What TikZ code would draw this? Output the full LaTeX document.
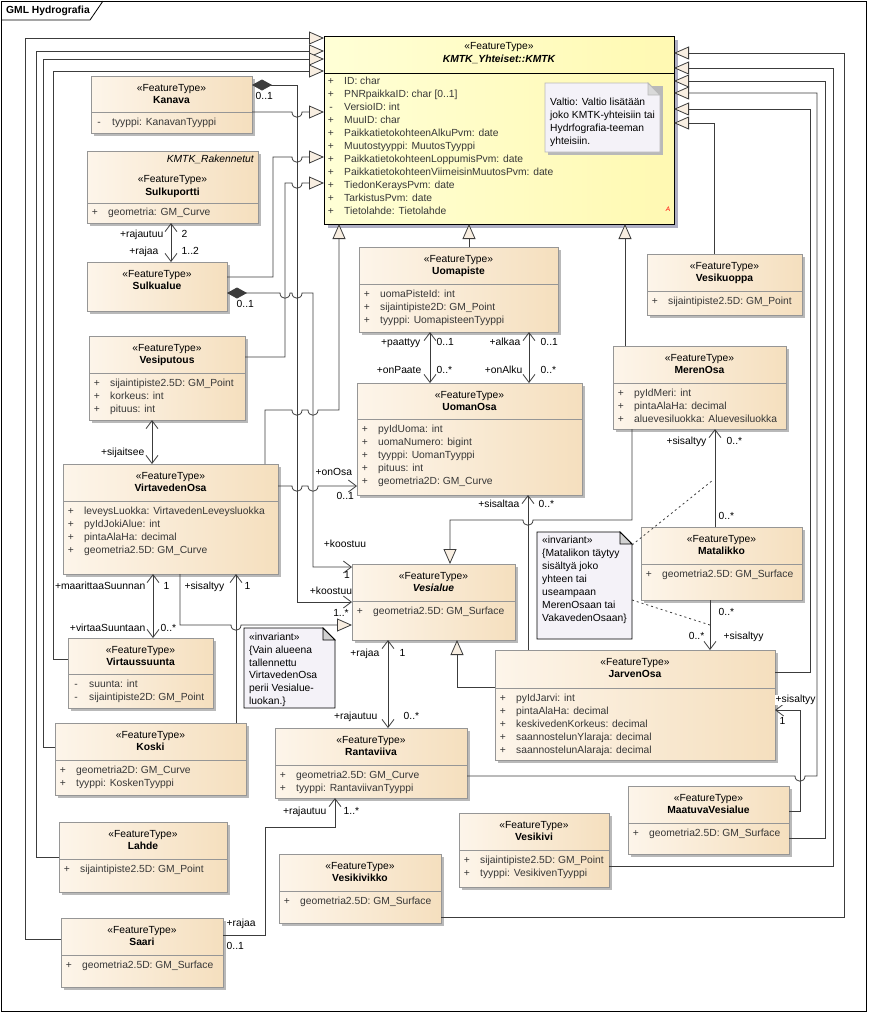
\documentclass[tikz,border=0pt]{standalone}
\usepackage{fontspec}
\setmainfont{Liberation Sans}
\usetikzlibrary{arrows.meta}
\definecolor{boxL}{RGB}{253,245,234}
\definecolor{boxR}{RGB}{245,223,190}
\definecolor{boxB}{RGB}{150,150,150}
\definecolor{kmL}{RGB}{255,255,214}
\definecolor{kmR}{RGB}{255,249,178}
\definecolor{noteF}{RGB}{244,242,248}
\definecolor{lnC}{RGB}{60,60,60}
\definecolor{attrC}{RGB}{55,55,55}
\definecolor{triF}{RGB}{248,238,225}
\definecolor{shd}{RGB}{185,185,185}
\definecolor{kshd}{RGB}{175,175,195}
\newcommand\fs{\fontsize{10.3}{13}\selectfont}
\newcounter{tn}
\newcommand\hp[2]{-- ({#1-5},#2) .. controls ({#1-5},{#2+7}) and ({#1+5},{#2+7}) .. ({#1+5},#2)}
\newcommand\hpl[2]{-- ({#1+5},#2) .. controls ({#1+5},{#2+7}) and ({#1-5},{#2+7}) .. ({#1-5},#2)}
\newcommand\cls[7]{%
  \fill[shd] ({#2+3},{#3+3}) rectangle ({#4+3},{#5+3});
  \node[clsbox, minimum width={#4pt-#2pt}, minimum height={#5pt-#3pt}, anchor=north west] (#1) at (#2,#3) {};
  \ifx\relax#6\relax\else\draw[sepl] (#2,#6) -- (#4,#6);\fi
  \node[txt] (#1-st) at ({(#2+#4)/2},{#3+13}) {«FeatureType»};
  \node[txt,font=\fs\bfseries] (#1-nm) at ({(#2+#4)/2},{#3+25}) {#7};
}
\newcommand\att[4]{\stepcounter{tn}%
  \node[atx] (v\arabic{tn}) at ({#1+8},#2) {#3};
  \node[atx,anchor=west] (a\arabic{tn}) at ({#1+21},#2) {#4};}
\newcommand\lb[3]{\stepcounter{tn}\node[lbl,#1] (l\arabic{tn}) at (#2) {#3};}
\tikzset{
  clsbox/.style={draw=boxB, line width=0.7pt, left color=boxL, right color=boxR, inner sep=0pt, outer sep=0pt},
  sepl/.style={draw=boxB, line width=0.7pt},
  txt/.style={font=\fs, inner sep=0pt, text=black, text height=7.4pt, text depth=2.2pt},
  atx/.style={font=\fs, inner sep=0pt, text=attrC, text height=7.4pt, text depth=2.2pt},
  lbl/.style={font=\fs, inner sep=0.5pt, text=black, text height=7.4pt, text depth=2.2pt},
  >={Straight Barb[length=8pt,width=12pt,line width=0.8pt]},
  conn/.style={draw=lnC, line width=0.8pt},
  gen/.style={conn, -{Triangle[length=15pt,width=13pt,fill=triF,line width=0.8pt]}},
  asc/.style={conn, ->},
  bi/.style={conn, <->},
  comp/.style={conn, {Diamond[length=20pt,width=11pt,fill=lnC,line width=0.8pt]}->},
  dotl/.style={draw=lnC, line width=0.8pt, dash pattern=on 2pt off 3pt},
  notebg/.style={fill=noteF, line width=0.8pt},
}
\begin{document}
\begin{tikzpicture}[x=1pt,y=-1pt]
\useasboundingbox (0,0) rectangle (869,1013);
\fill[white] (0,0) rectangle (869,1013);
% frame
\draw[black, line width=0.8pt] (1,1) rectangle (866,1011);
\draw[black, line width=0.8pt] (1,20) -- (90,20) -- (103,1);
\node[font=\fs\bfseries, anchor=west, inner sep=0pt] (ttl) at (6,11) {GML Hydrografia};

% ---------- KMTK ----------
\fill[kshd] (328,40) rectangle (678,228);
\node[draw=black, line width=0.8pt, left color=kmL, right color=kmR, minimum width=350pt, minimum height=188pt, anchor=north west, inner sep=0pt, outer sep=0pt] (kmtk) at (324,36) {};
\draw[black, line width=0.8pt] (324,73) -- (674,73);
\node[txt] (kmtk-st) at (499,47) {«FeatureType»};
\node[txt,font=\fs\bfseries\itshape] (kmtk-nm) at (499,60) {KMTK\_Yhteiset::KMTK};
\att{323}{82}{+}{ID: char}
\att{323}{95}{+}{PNRpaikkaID: char [0..1]}
\att{323}{108}{-}{VersioID: int}
\att{323}{121}{+}{MuuID: char}
\att{323}{134}{+}{PaikkatietokohteenAlkuPvm: date}
\att{323}{147}{+}{Muutostyyppi: MuutosTyyppi}
\att{323}{160}{+}{PaikkatietokohteenLoppumisPvm: date}
\att{323}{173}{+}{PaikkatietokohteenViimeisinMuutosPvm: date}
\att{323}{186}{+}{TiedonKeraysPvm: date}
\att{323}{199}{+}{TarkistusPvm: date}
\att{323}{212}{+}{Tietolahde: Tietolahde}
\node[font=\fontsize{6.5}{7}\selectfont\itshape, text=red, inner sep=0pt] (kmA) at (668,209) {A};
% note in KMTK
\fill[shd] (548,86) rectangle (663,155);
\draw[notebg, draw=gray!55] (545,83) -- (648,83) -- (660,95) -- (660,152) -- (545,152) -- cycle;
\filldraw[draw=gray!55, fill=gray!30, line width=0.8pt] (648,83) -- (648,95) -- (660,95) -- cycle;
\foreach \t [count=\i] in {Valtio: Valtio lisätään, joko KMTK-yhteisiin tai, Hydrfografia-teeman, yhteisiin.}
  \node[txt, anchor=west] (kn\i) at (550,{103+13*(\i-1)}) {\t};

% ---------- classes ----------
\cls{kanava}{91}{76}{252}{133}{112}{Kanava}
\att{91}{123}{-}{tyyppi: KanavanTyyppi}

\fill[shd] (90,154) rectangle (261,226);
\node[clsbox, minimum width=171pt, minimum height=72pt, anchor=north west] (sulkuportti) at (87,151) {};
\draw[sepl] (87,203) -- (258,203);
\node[txt, font=\fs\itshape, anchor=east] (sp-pk) at (254,160) {KMTK\_Rakennetut};
\node[txt] (sulkuportti-st) at (172.5,180) {«FeatureType»};
\node[txt,font=\fs\bfseries] (sulkuportti-nm) at (172.5,193) {Sulkuportti};
\att{87}{213}{+}{geometria: GM\_Curve}

\cls{sulkualue}{87}{262}{227}{311}{}{Sulkualue}

\cls{vesiputous}{89}{336}{245}{420}{373}{Vesiputous}
\att{89}{384}{+}{sijaintipiste2.5D: GM\_Point}
\att{89}{397}{+}{korkeus: int}
\att{89}{410}{+}{pituus: int}

\cls{virta}{63}{464}{278}{574}{501}{VirtavedenOsa}
\att{63}{512}{+}{leveysLuokka: VirtavedenLeveysluokka}
\att{63}{525}{+}{pyIdJokiAlue: int}
\att{63}{538}{+}{pintaAlaHa: decimal}
\att{63}{551}{+}{geometria2.5D: GM\_Curve}

\cls{virtaussuunta}{68}{638}{213}{708}{674}{Virtaussuunta}
\att{68}{685}{-}{suunta: int}
\att{68}{698}{-}{sijaintipiste2D: GM\_Point}

\cls{koski}{55}{723}{246}{795}{760}{Koski}
\att{55}{771}{+}{geometria2D: GM\_Curve}
\att{55}{784}{+}{tyyppi: KoskenTyyppi}

\cls{lahde}{59}{822}{227}{892}{859}{Lahde}
\att{59}{870}{+}{sijaintipiste2.5D: GM\_Point}

\cls{saari}{61}{918}{223}{987}{955}{Saari}
\att{61}{966}{+}{geometria2.5D: GM\_Surface}

\cls{uomapiste}{359}{247}{558}{332}{284}{Uomapiste}
\att{359}{295}{+}{uomaPisteId: int}
\att{359}{308}{+}{sijaintipiste2D: GM\_Point}
\att{359}{321}{+}{tyyppi: UomapisteenTyyppi}

\cls{uomanosa}{357}{383}{582}{495}{419}{UomanOsa}
\att{357}{430}{+}{pyIdUoma: int}
\att{357}{443}{+}{uomaNumero: bigint}
\att{357}{456}{+}{tyyppi: UomanTyyppi}
\att{357}{469}{+}{pituus: int}
\att{357}{482}{+}{geometria2D: GM\_Curve}

\cls{vesialue}{352}{564}{515}{640}{601}{\itshape Vesialue}
\att{352}{612}{+}{geometria2.5D: GM\_Surface}

\cls{rantaviiva}{275}{728}{467}{798}{765}{Rantaviiva}
\att{275}{776}{+}{geometria2.5D: GM\_Curve}
\att{275}{789}{+}{tyyppi: RantaviivanTyyppi}

\cls{vesikivikko}{279}{854}{441}{923}{891}{Vesikivikko}
\att{279}{902}{+}{geometria2.5D: GM\_Surface}

\cls{vesikivi}{459}{813}{609}{887}{850}{Vesikivi}
\att{459}{861}{+}{sijaintipiste2.5D: GM\_Point}
\att{459}{874}{+}{tyyppi: VesikivenTyyppi}

\cls{maatuva}{628}{786}{789}{854}{823}{MaatuvaVesialue}
\att{628}{834}{+}{geometria2.5D: GM\_Surface}

\cls{jarvenosa}{495}{650}{775}{760}{688}{JarvenOsa}
\att{495}{699}{+}{pyIdJarvi: int}
\att{495}{712}{+}{pintaAlaHa: decimal}
\att{495}{725}{+}{keskivedenKorkeus: decimal}
\att{495}{738}{+}{saannostelunYlaraja: decimal}
\att{495}{751}{+}{saannostelunAlaraja: decimal}

\cls{matalikko}{641}{527}{802}{600}{564}{Matalikko}
\att{641}{575}{+}{geometria2.5D: GM\_Surface}

\cls{merenosa}{613}{346}{786}{429}{383}{MerenOsa}
\att{613}{394}{+}{pyIdMeri: int}
\att{613}{407}{+}{pintaAlaHa: decimal}
\att{613}{420}{+}{aluevesiluokka: Aluevesiluokka}

\cls{vesikuoppa}{647}{254}{802}{315}{291}{Vesikuoppa}
\att{647}{302}{+}{sijaintipiste2.5D: GM\_Point}

% ---------- invariant notes ----------
\node[minimum width=91pt, minimum height=80pt, anchor=north west, inner sep=0pt] (n1) at (244,628) {};
\draw[notebg, draw=black] (244,628) -- (323,628) -- (335,640) -- (335,708) -- (244,708) -- cycle;
\filldraw[draw=black, fill=gray!35, line width=0.8pt] (323,628) -- (323,640) -- (335,640) -- cycle;
\foreach \t [count=\i] in {«invariant», \{Vain alueena, tallennettu, VirtavedenOsa, perii Vesialue-, luokan.\}}
  \node[txt, anchor=west] (n1l\i) at (249,{638+12.7*(\i-1)}) {\t};

\node[minimum width=95pt, minimum height=107pt, anchor=north west, inner sep=0pt] (n2) at (537,532) {};
\draw[notebg, draw=black] (537,532) -- (620,532) -- (632,544) -- (632,639) -- (537,639) -- cycle;
\filldraw[draw=black, fill=gray!35, line width=0.8pt] (620,532) -- (620,544) -- (632,544) -- cycle;
\foreach \t [count=\i] in {«invariant», \{Matalikon täytyy, sisältyä joko, yhteen tai, useampaan, MerenOsaan tai, VakavedenOsaan\}}
  \node[txt, anchor=west] (n2l\i) at (542,{541+13*(\i-1)}) {\t};

% ---------- generalizations to KMTK ----------
\draw[gen] (saari.west |- 0,939) -- (25,939) -- (25,38) -- (kmtk.west |- 0,38);
\draw[gen] (lahde.west |- 0,857) -- (36,857) -- (36,51) -- (kmtk.west |- 0,51);
\draw[gen] (koski.west |- 0,747) -- (43,747) -- (43,59) -- (kmtk.west |- 0,59);
\draw[gen] (virtaussuunta.west |- 0,659) -- (53,659) -- (53,71) -- (kmtk.west |- 0,71);
\draw[gen] (kanava.east |- 0,112) \hp{297}{112} -- (kmtk.west |- 0,112);
\draw[gen] (sulkualue.east |- 0,277) -- (273,277) -- (273,157) \hp{297}{157} -- (kmtk.west |- 0,157);
\draw[gen] (vesiputous.east |- 0,357) -- (285,357) -- (285,183) \hp{297}{183} -- (kmtk.west |- 0,183);
\draw[gen] (virta.north -| 265,0) -- (265,410) \hp{297}{410} \hp{313}{410} -- (339,410) -- (kmtk.south -| 339,0);
\draw[gen] (uomapiste.north -| 469,0) -- (kmtk.south -| 469,0);
\draw[gen] (merenosa.north -| 625,0) -- (kmtk.south -| 625,0);
\draw[gen] (vesikuoppa.north -| 714,0) -- (714,123) -- (kmtk.east |- 0,123);
\draw[gen] (jarvenosa.east |- 0,672) -- (810,672) -- (810,109) -- (kmtk.east |- 0,109);
\draw[gen] (rantaviiva.east |- 0,776) \hp{800}{776} -- (817,776) -- (817,93) -- (kmtk.east |- 0,93);
\draw[gen] (maatuva.east |- 0,838) -- (825,838) -- (825,81) -- (kmtk.east |- 0,81);
\draw[gen] (vesikivi.east |- 0,866) -- (833,866) -- (833,68) -- (kmtk.east |- 0,68);
\draw[gen] (vesikivikko.east |- 0,917) -- (844,917) -- (844,53) -- (kmtk.east |- 0,53);

% ---------- generalizations to Vesialue ----------
\draw[gen] (virta.south -| 180,0) -- (180,625) \hp{236}{625} -- (vesialue.west |- 0,625);
\draw[gen] (merenosa.south -| 632,0) -- (632,520) \hpl{528}{520} -- (450,520) -- (vesialue.north -| 450,0);
\draw[gen] (jarvenosa.west |- 0,687) -- (457,687) -- (vesialue.south -| 457,0);

% ---------- compositions ----------
\draw[comp] (kanava.east |- 0,85) -- (297,85) -- (297,602) -- (vesialue.west |- 0,602);
\draw[comp] (sulkualue.east |- 0,293) \hp{285}{293} \hp{297}{293} -- (313,293) -- (313,567) -- (vesialue.west |- 0,567);
\lb{anchor=west}{255,97}{0..1}
\lb{anchor=west}{236,305}{0..1}
\lb{}{345,545}{+koostuu}
\lb{}{347,576}{1}
\lb{}{331,592}{+koostuu}
\lb{}{341,614}{1..*}

% ---------- associations ----------
\draw[bi] (sulkuportti.south -| 171,0) -- (sulkualue.north -| 171,0);
\lb{anchor=east}{164,235}{+rajautuu}
\lb{anchor=west}{181,235}{2}
\lb{anchor=east}{159,252}{+rajaa}
\lb{anchor=west}{181,252}{1..2}

\draw[bi] (vesiputous.south -| 152,0) -- (virta.north -| 152,0);
\lb{anchor=east}{145,453}{+sijaitsee}

\draw[bi] (uomapiste.south -| 430,0) -- (uomanosa.north -| 430,0);
\lb{anchor=east}{421,343}{+paattyy}
\lb{anchor=west}{436,343}{0..1}
\lb{anchor=east}{422,371}{+onPaate}
\lb{anchor=west}{436,371}{0..*}

\draw[bi] (uomapiste.south -| 529,0) -- (uomanosa.north -| 529,0);
\lb{anchor=east}{521,343}{+alkaa}
\lb{anchor=west}{540,343}{0..1}
\lb{anchor=east}{523,371}{+onAlku}
\lb{anchor=west}{540,371}{0..*}

\draw[asc] (virta.east |- 0,486) \hp{297}{486} \hp{313}{486} -- (uomanosa.west |- 0,486);
\lb{anchor=west}{315,473}{+onOsa}
\lb{anchor=west}{336,497}{0..1}

\draw[asc] (jarvenosa.north -| 528,0) -- (uomanosa.south -| 528,0);
\lb{anchor=east}{520,505}{+sisaltaa}
\lb{anchor=west}{538,505}{0..*}

\draw[asc] (matalikko.north -| 715,0) -- (merenosa.south -| 715,0);
\lb{anchor=east}{707,442}{+sisaltyy}
\lb{anchor=west}{726,442}{0..*}
\lb{anchor=west}{718,517}{0..*}

\draw[asc] (matalikko.south -| 710,0) -- (jarvenosa.north -| 710,0);
\lb{anchor=west}{718,613}{0..*}
\lb{anchor=east}{705,637}{0..*}
\lb{anchor=west}{723,637}{+sisaltyy}

\draw[asc] (maatuva.east |- 0,811) -- (800,811) -- (800,710) -- (jarvenosa.east |- 0,710);
\lb{anchor=west, fill=white}{775,700}{+sisaltyy}
\lb{anchor=west}{779,722}{1}

\draw[bi] (vesialue.south -| 388,0) -- (rantaviiva.north -| 388,0);
\lb{anchor=east}{380,654}{+rajaa}
\lb{anchor=west}{399,654}{1}
\lb{anchor=east}{378,717}{+rajautuu}
\lb{anchor=west}{403,717}{0..*}

\draw[asc] (saari.east |- 0,935) -- (265,935) -- (265,827) -- (335,827) -- (rantaviiva.south -| 335,0);
\lb{anchor=west}{226,924}{+rajaa}
\lb{anchor=west}{226,947}{0..1}
\lb{anchor=east}{327,812}{+rajautuu}
\lb{anchor=west}{343,812}{1..*}

\draw[asc] (koski.north -| 236,0) -- (virta.south -| 236,0);
\lb{anchor=east}{225,587}{+sisaltyy}
\lb{anchor=west}{244,587}{1}

\draw[bi] (virta.south -| 153,0) -- (virtaussuunta.north -| 153,0);
\lb{anchor=east}{146,587}{+maarittaaSuunnan}
\lb{anchor=west}{163,587}{1}
\lb{anchor=east}{146,629}{+virtaaSuuntaan}
\lb{anchor=west}{160,629}{0..*}

% ---------- note anchors ----------
\coordinate (n2a) at (632,545);
\coordinate (n2b) at (632,600);
\coordinate (m1) at (713,480);
\coordinate (m2) at (710,625);
\draw[dotl] (n2a) -- (m1);
\draw[dotl] (n2b) -- (m2);
\end{tikzpicture}
\end{document}
